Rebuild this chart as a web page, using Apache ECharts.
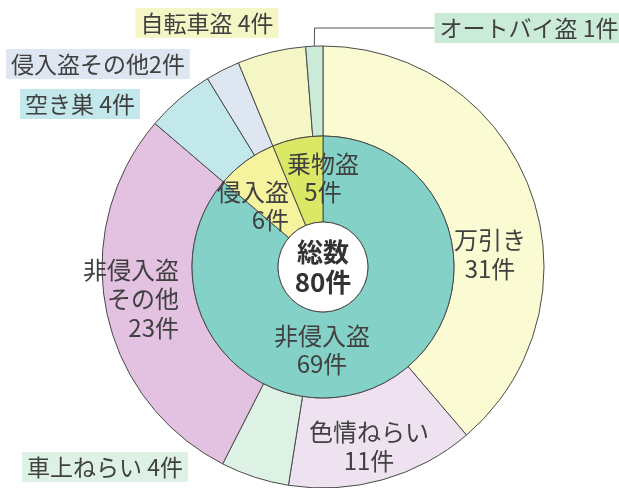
<!DOCTYPE html>
<html>
<head>
<meta charset="utf-8">
<script src="https://cdn.jsdelivr.net/npm/echarts@6/dist/echarts.min.js"></script>
<style>
  html, body { margin: 0; padding: 0; background: #fff; }
  #chart { width: 619px; height: 488px; }
</style>
</head>
<body>
<div id="chart"></div>
<script>
// 内側（大分類）
const innerNames = ['非侵入盗', '侵入盗', '乗物盗']
const innerValues = [69, 6, 5]
// 外側（手口別）
const outerNames = ['万引き', '色情ねらい', '車上ねらい', '非侵入盗その他', '空き巣', '侵入盗その他', '自転車盗', 'オートバイ盗']
const outerValues = [31, 11, 4, 23, 4, 2, 4, 1]
const totalName = '総数'
const totalValue = 80

const innerColors = ['#84d2c7', '#f5f39d', '#dbe866']
const outerColors = ['#fbfbd3', '#eee2f1', '#ddf2e5', '#e3c1e1', '#c3e8eb', '#dee7f1', '#f4f6c5', '#cbebd9']

// ラベル位置
const labelPos = {
  '万引き': { x: 490, y: 254 },
  '色情ねらい': { x: 369, y: 446 },
  '非侵入盗その他': { x: 179, y: 299, align: 'right' },
  '車上ねらい': { x: 105, y: 467 },
  '空き巣': { x: 80, y: 104 },
  '侵入盗その他': { x: 98, y: 64 },
  '自転車盗': { x: 207, y: 23 },
  'オートバイ盗': { x: 529, y: 28 },
  '非侵入盗': { x: 322, y: 350 },
  '侵入盗': { x: 289, y: 206, align: 'right' },
  '乗物盗': { x: 323, y: 178 }
}
const boxed = ['車上ねらい', '空き巣', '侵入盗その他', '自転車盗', 'オートバイ盗']

const textColor = '#404040'
const font = '"Noto Sans CJK JP", "Noto Sans", sans-serif'
const border = { borderColor: '#4a4a4a', borderWidth: 1 }

function outerLabel(name, value, i) {
  if (boxed.includes(name)) {
    const txt = name === '侵入盗その他' ? name + value + '件' : name + ' ' + value + '件'
    return {
      show: true,
      position: 'outside',
      formatter: txt,
      fontSize: 23,
      lineHeight: 26,
      color: textColor,
      fontFamily: font,
      backgroundColor: outerColors[i],
      padding: [2, 5]
    }
  }
  const txt = name === '非侵入盗その他' ? '非侵入盗\nその他\n' + value + '件' : name + '\n' + value + '件'
  return {
    show: true,
    position: 'inside',
    formatter: txt,
    fontSize: 24,
    lineHeight: 29,
    color: textColor,
    fontFamily: font
  }
}

const outerData = outerNames.map((name, i) => ({
  name: name,
  value: outerValues[i],
  itemStyle: Object.assign({ color: outerColors[i] }, border),
  label: outerLabel(name, outerValues[i], i),
  labelLine: name === 'オートバイ盗'
    ? { show: true, length: 10, length2: 120, lineStyle: { color: '#555', width: 1 } }
    : { show: false }
}))

const innerData = innerNames.map((name, i) => ({
  name: name,
  value: innerValues[i],
  itemStyle: Object.assign({ color: innerColors[i] }, border),
  label: {
    show: true,
    position: 'inside',
    formatter: name + '\n' + innerValues[i] + '件',
    fontSize: 24,
    lineHeight: 28,
    color: textColor,
    fontFamily: font
  }
}))

const chart = echarts.init(document.getElementById('chart'))
chart.setOption({
  backgroundColor: '#fff',
  animation: false,
  series: [
    {
      name: 'outer',
      type: 'pie',
      center: [323, 267],
      radius: [131, 221],
      startAngle: 90,
      clockwise: true,
      avoidLabelOverlap: false,
      emphasis: { disabled: true },
      labelLayout: function (params) {
        const p = labelPos[outerNames[params.dataIndex]]
        return { x: p.x, y: p.y, align: p.align || 'center', verticalAlign: 'middle' }
      },
      data: outerData
    },
    {
      name: 'inner',
      type: 'pie',
      center: [323, 267],
      radius: [45, 131],
      startAngle: 90,
      clockwise: true,
      avoidLabelOverlap: false,
      emphasis: { disabled: true },
      labelLayout: function (params) {
        const p = labelPos[innerNames[params.dataIndex]]
        return { x: p.x, y: p.y, align: p.align || 'center', verticalAlign: 'middle' }
      },
      data: innerData
    },
    {
      name: 'total',
      type: 'pie',
      center: [323, 267],
      radius: [0, 45],
      emphasis: { disabled: true },
      label: {
        show: true,
        position: 'center',
        formatter: '{b}\n{c}件',
        fontSize: 26,
        lineHeight: 30,
        fontWeight: 'bold',
        color: '#333',
        fontFamily: font
      },
      labelLine: { show: false },
      itemStyle: Object.assign({ color: '#fff' }, border),
      data: [{ name: totalName, value: totalValue }]
    }
  ]
})
</script>
</body>
</html>
